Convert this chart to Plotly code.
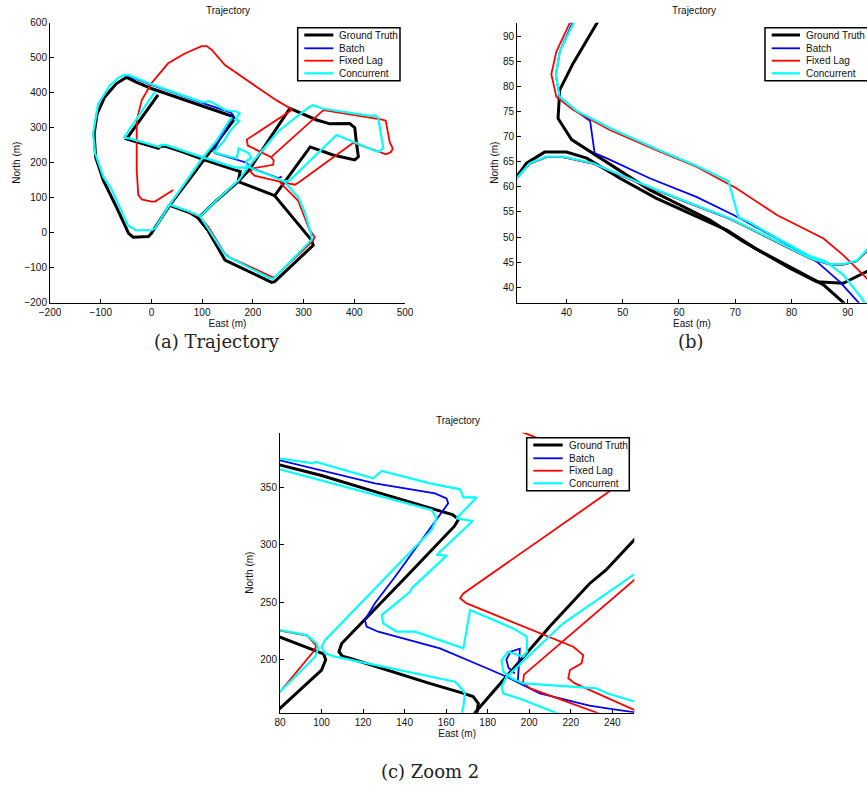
import plotly.graph_objects as go

SERIES = ["Ground Truth", "Batch", "Fixed Lag", "Concurrent"]
COLORS = ["#000000", "#0000FF", "#FF0000", "#00FFFF"]
WIDTHS = [3.0, 1.8, 1.8, 2.2]

# ---------------- Panel (a): full trajectory ----------------
A_GT_X = [36, 16, 0, -6, -36, -45, -52, -69, -95, -110, -113, -107, -92, -69, -49, -30, 0, 50, 100, 145, 161, 164, 130, 102, 70, 36, 76, 92, None,
          13, -49, -40, 8, 14, 18, 28, 60, 100, 140, 175, 171, 243, None,
          92, 112, 145, 237, 243, 319, 316, 243, 313, 358, 401, 408, 404, 401, 391, 352, 326, 273, 230, 194, 171, 128, 92]
A_GT_Y = [78, 35, -2, -11, -13, -2, 20, 73, 150, 216, 283, 340, 388, 426, 444, 430, 412, 387, 362, 340, 332, 325, 258, 206, 143, 78, 57, 42, None,
          394, 268, 264, 243, 241, 247, 247, 232, 210, 191, 175, 146, 106, None,
          42, 5, -78, -142, -140, -36, -22, 106, 245, 222, 208, 217, 260, 300, 312, 311, 322, 355, 262, 182, 146, 92, 42]

A_BATCH_X = [-54, -45, 0, 50, 100, 145, 157, 161, 122, 126, 188, 194, 250, 257]
A_BATCH_Y = [450, 448, 422, 396, 371, 349, 343, 336, 232, 227, 200, 187, 156, 160]

A_FL_X = [43, 25, 7, 0, -19, -26, -29, -29, -29, -19, 0, 33, 66, 99, 109, 119, 145, 207, 247, 273, 276, 188, 190, 236, 241, 240, 201, 195, 203, 253, 283, 293, 398, 445, 462, 472, 476, 470, 462, 455, 390, 339, 236, None,
          253, 259, 289, 299, 312, 322, 319, 247, 240, 154, 145, 112, 95, 72]
A_FL_Y = [122, 106, 89, 89, 95, 108, 180, 236, 322, 379, 427, 484, 512, 533, 533, 522, 479, 417, 378, 356, 350, 266, 249, 216, 207, 194, 184, 175, 163, 146, 137, 146, 257, 233, 224, 230, 240, 258, 320, 323, 338, 350, 216, None,
          146, 135, 92, 54, 7, -12, -22, -122, -128, -70, -60, 17, 46, 60]

A_CONC_X = [36, 7, 0, -32, -36, -46, -78, -95, -111, -115, -105, -82, -65, -54, -45, 0, 50, 100, 108, 112, 120, 145, 158, 166, 174, 165, 173, 155, 143, 129, 122, 136, 168, 172, 192, 197, 187, 188, 200, 232, 262, 290, 303, 315, 316, 240, 232, 150, 143, 112, 96, None,
            7, -54, -40, 10, 16, 20, 28, 100, 165, 190, None,
            158, 128, 100, 68, 36, 76, 96, 130, 172, 190, 250, 312, 318, 339, 431, 440, 447, 457, 450, 443, 365, 273, 262]
A_CONC_Y = [80, 12, 7, 7, 12, 20, 122, 160, 227, 283, 368, 421, 443, 450, 450, 424, 398, 373, 373, 376, 372, 351, 347, 347, 341, 323, 320, 291, 262, 239, 231, 224, 212, 241, 227, 214, 205, 192, 182, 165, 146, 100, 55, -5, -20, -132, -129, -68, -58, 10, 47, None,
            403, 272, 268, 248, 245, 251, 251, 216, 186, 186, None,
            330, 262, 212, 147, 80, 60, 47, 95, 150, 186, 290, 360, 364, 354, 334, 335, 330, 242, 232, 233, 279, 150, 146]

# ---------------- Panel (b): zoom near (60, 60) ----------------
B_GT_X = [46.7, 41.2, 38.8, 38.5, 40.9, 45.0, 54.8, 65.5, 71.4, 79.7, 84.5, 89.2, 93.4, 96.0, None,
          31.0, 32.9, 36.1, 40.0, 43.6, 49.5, 56.0, 68.5, 73.8, 80.3, 85.7, 89.2, 90.0]
B_GT_Y = [95.0, 84.6, 79.3, 73.6, 69.4, 66.5, 59.4, 53.4, 49.1, 43.8, 41.1, 40.8, 43.1, 44.6, None,
          61.8, 64.7, 66.9, 66.9, 65.7, 61.7, 57.7, 51.4, 47.6, 43.8, 40.5, 37.0, 36.0]

B_BATCH_X = [42.0, 38.8, 38.1, 38.8, 41.8, 44.2, 45.0, 47.1, 54.8, 63.1, 69.7, 77.4, 84.5, 88.6, 91.9, 92.5, None,
             31.0, 33.5, 36.4, 39.4, 44.7, 52.5, 61.4, 69.1, 77.4, 83.3, 86.9, 89.2, 91.6, 93.4, 95.0]
B_BATCH_Y = [95.0, 86.9, 82.2, 77.9, 75.0, 73.1, 66.7, 65.7, 61.7, 58.0, 54.4, 49.7, 45.1, 41.1, 37.0, 36.0, None,
             61.6, 64.6, 65.9, 65.9, 64.6, 60.9, 56.9, 53.6, 49.0, 45.7, 44.5, 44.5, 45.2, 47.3, 49.0]

B_FL_X = [41.6, 38.2, 37.3, 38.2, 41.2, 47.7, 56.6, 63.1, 70.2, 77.4, 85.7, 89.2, 93.4, 95.0, None,
          31.0, 33.5, 36.4, 39.4, 44.7, 52.5, 61.4, 69.1, 77.4, 83.3, 86.9, 89.2, 91.6, 93.4, 95.0]
B_FL_Y = [95.0, 86.9, 82.4, 77.9, 75.3, 71.3, 67.0, 64.0, 59.7, 54.4, 49.7, 46.4, 41.8, 40.0, None,
          61.6, 64.6, 65.9, 65.9, 64.6, 60.9, 56.9, 53.6, 49.0, 45.7, 44.5, 44.5, 45.2, 47.3, 49.0]

B_CONC_X = [42.3, 38.8, 38.1, 38.8, 41.8, 47.7, 56.6, 63.1, 68.8, 70.6, 72.6, 77.4, 83.3, 86.0, 89.2, 92.5, 93.2, None,
            31.0, 33.5, 36.4, 39.4, 44.7, 52.5, 61.4, 69.1, 77.4, 83.3, 86.9, 89.2, 91.6, 93.4, 95.0]
B_CONC_Y = [95.0, 86.9, 82.2, 77.9, 75.1, 71.7, 67.2, 64.2, 61.1, 53.9, 52.9, 49.8, 46.2, 45.2, 42.5, 37.8, 36.5, None,
            61.5, 64.7, 66.0, 66.0, 64.7, 61.0, 57.0, 53.7, 49.1, 45.8, 44.6, 44.6, 45.3, 47.4, 50.0]

# ---------------- Panel (c): Zoom 2 ----------------
C_GT_X = [78, 100, 125.7, 150, 163, 166, 164, 141.8, 109.7, 108.4, 110, 114, 152, 168, 173, 175.5, 174.5, None,
          78, 96.9, 101, 102, 100, 80, 77, None,
          172, 189, 210, 229, 237, 251, 253]
C_GT_Y = [370, 360, 346, 333, 326, 322, 316, 274, 214, 207, 203, 201, 179.4, 171, 168, 162, 150, None,
          221, 208.4, 205, 200, 191, 157.7, 153, None,
          150, 185, 229, 266, 278, 305, 308]

C_BATCH_X = [78, 125.7, 154.6, 160.2, 161, 158.6, 148.2, 135.4, 125.7, 120.9, 121.7, 127.3, 157, 177.9, 189.1, 205.1, 229, 240, 252, None,
             194.5, 195.5, 191, 189, 190, 193]
C_BATCH_Y = [374, 353.2, 344.5, 340.2, 335.8, 330, 304, 272, 249, 234.5, 228.7, 224.3, 209.8, 193.9, 185.2, 170.8, 160, 157, 154, None,
             181, 209.5, 207, 200, 193, 188]

C_FL_X = [190, 197, 244, 246, 243, 237.3, 168.3, 166.7, 169.9, 221.2, 226, 225.2, 219.6, 218.8, 222, 250.9, 253, None,
          253, 251, 197.5, 197, 200.5, 231, 234, None,
          78, 80, 96.5, 97.5, 93, 80, 78]
C_FL_Y = [403, 397.5, 364, 359, 353, 344.5, 257.6, 253.3, 248.9, 211.3, 204, 196.8, 191, 183.8, 179.4, 156.3, 154.5, None,
          273, 270, 187, 180, 175, 154.8, 153, None,
          169, 172, 208, 212, 221, 225.5, 226]

C_CONC_X = [78, 96, 96.9, 124.9, 129, 152.2, 166.7, 168.3, 174.7, 165, 172.8, 155.4, 160.2, 143.4, 142.6, 129, 129.7, 136.2, 145, 168.3, 171.5, 192.3, 198.8, 199, 197.1, 189.9, 186.7, 187.5, 191.5, 197.1, 232.4, 237.3, 252, None,
            78, 92.8, 97.6, 98.4, 96.9, 80, 77, None,
            78, 153, 155.4, 153, 101.7, 100, 101.7, 106.5, 164.3, 166.7, 169, 168.3, 167, None,
            214, 197.2, 187.5, 186.7, 189.1, 216.4, 252]
C_CONC_Y = [375.3, 370.6, 372, 357.5, 363.9, 353.2, 348, 341, 341, 322.8, 320.5, 291, 290.4, 262, 259, 238.8, 231.6, 224.3, 224.3, 209.8, 243.2, 227.2, 220, 207, 202.6, 207, 199.7, 189.6, 183.8, 179.4, 175.1, 170.8, 163, None,
            226.3, 221.4, 214.2, 209.8, 202.6, 172.2, 168, None,
            366.3, 330, 322.8, 312.7, 217, 211.3, 205.5, 202.6, 180.9, 176.5, 170.8, 159.2, 150, None,
            153, 165, 170.8, 176.5, 185.2, 231.6, 276]

PANELS = [
    ("x", "y", [(A_GT_X, A_GT_Y), (A_BATCH_X, A_BATCH_Y), (A_FL_X, A_FL_Y), (A_CONC_X, A_CONC_Y)]),
    ("x2", "y2", [(B_GT_X, B_GT_Y), (B_BATCH_X, B_BATCH_Y), (B_FL_X, B_FL_Y), (B_CONC_X, B_CONC_Y)]),
    ("x3", "y3", [(C_GT_X, C_GT_Y), (C_BATCH_X, C_BATCH_Y), (C_FL_X, C_FL_Y), (C_CONC_X, C_CONC_Y)]),
]

W, H = 867, 789
FONT = "Liberation Sans, Arial, Helvetica, sans-serif"

fig = go.Figure()
for xa, ya, series in PANELS:
    for i, (xs, ys) in enumerate(series):
        fig.add_trace(go.Scatter(x=xs, y=ys, mode="lines", name=SERIES[i],
                                 line=dict(color=COLORS[i], width=WIDTHS[i]),
                                 xaxis=xa, yaxis=ya, showlegend=False,
                                 connectgaps=False, hoverinfo="skip"))


def px(v):
    return v / W


def py(v):
    return 1 - v / H


def axis_common(title, standoff):
    return dict(showline=True, linecolor="black", linewidth=1, mirror=False,
                ticks="inside", ticklen=4, tickwidth=1, tickcolor="black",
                showgrid=False, zeroline=False,
                tickfont=dict(family=FONT, size=10, color="#111"),
                title=dict(text=title, font=dict(family=FONT, size=10, color="#111"), standoff=standoff))


fig.update_layout(
    width=W, height=H,
    margin=dict(l=0, r=0, t=0, b=0, autoexpand=False),
    paper_bgcolor="white", plot_bgcolor="white",
    showlegend=False,
    xaxis=dict(domain=[px(50), px(405)], range=[-200, 500], tickvals=[-200, -100, 0, 100, 200, 300, 400, 500],
               anchor="y", **axis_common("East (m)", 0)),
    yaxis=dict(domain=[py(302.7), py(22.7)], range=[-200, 600], tickvals=[-200, -100, 0, 100, 200, 300, 400, 500, 600],
               anchor="x", **axis_common("North (m)", 1)),
    xaxis2=dict(domain=[px(517), 1.0], range=[31.2, 93.43], tickvals=[40, 50, 60, 70, 80, 90],
                anchor="y2", **axis_common("East (m)", 0)),
    yaxis2=dict(domain=[py(302.7), py(22.7)], range=[36.94, 92.65], tickvals=[40, 45, 50, 55, 60, 65, 70, 75, 80, 85, 90],
                anchor="x2", **axis_common("North (m)", 2)),
    xaxis3=dict(domain=[px(280), px(634.3)], range=[80, 250.6], tickvals=[80, 100, 120, 140, 160, 180, 200, 220, 240],
                anchor="y3", **axis_common("East (m)", 1)),
    yaxis3=dict(domain=[py(712.7), py(432.7)], range=[153.95, 397.2], tickvals=[200, 250, 300, 350],
                anchor="x3", **axis_common("North (m)", 4)),
)

shapes = []
annotations = []

# Legends drawn as boxes with line samples (one per panel)
LEGENDS = [
    dict(box=(297.7, 400.0, 27.7, 80.7), line=(304.3, 333.3), text=337.3, rows=[35.0, 48.3, 60.7, 73.3]),
    dict(box=(765.0, 900.0, 27.7, 80.7), line=(771.7, 800.0), text=804.3, rows=[35.0, 48.3, 60.7, 73.3]),
    dict(box=(526.7, 629.3, 437.7, 490.7), line=(533.3, 562.7), text=566.7, rows=[445.0, 458.3, 470.7, 483.3]),
]
for lg in LEGENDS:
    x0, x1, y0, y1 = lg["box"]
    shapes.append(dict(type="rect", xref="paper", yref="paper", x0=px(x0), x1=px(x1), y0=py(y1), y1=py(y0),
                       line=dict(color="black", width=1.5), fillcolor="white", layer="above"))
    for i, r in enumerate(lg["rows"]):
        shapes.append(dict(type="line", xref="paper", yref="paper", x0=px(lg["line"][0]), x1=px(lg["line"][1]),
                           y0=py(r), y1=py(r), line=dict(color=COLORS[i], width=WIDTHS[i]), layer="above"))
        annotations.append(dict(text=SERIES[i], xref="paper", yref="paper", x=px(lg["text"]), y=py(r),
                                xanchor="left", yanchor="middle", showarrow=False,
                                font=dict(family=FONT, size=10, color="#111")))

# Panel titles
for cx, cy in [(227.5, 11.0), (694.0, 11.0), (457.5, 420.7)]:
    annotations.append(dict(text="Trajectory", xref="paper", yref="paper", x=px(cx), y=py(cy),
                            xanchor="center", yanchor="middle", showarrow=False,
                            font=dict(family=FONT, size=10, color="#111")))

# Sub-figure captions
for txt, cx, cy in [("(a) Trajectory", 216.5, 341.0), ("(b)", 691.0, 341.0), ("(c) Zoom 2", 430.0, 771.0)]:
    annotations.append(dict(text=txt, xref="paper", yref="paper", x=px(cx), y=py(cy),
                            xanchor="center", yanchor="middle", showarrow=False, borderpad=0,
                            font=dict(family="DejaVu Serif, Liberation Serif, serif", size=18, color="#222")))

fig.update_layout(shapes=shapes, annotations=annotations)
# remove the default 8px page margin so the figure fills the window exactly
fig.write_html("out.html", config={"displayModeBar": False},
               post_script="document.body.style.margin='0px';")
